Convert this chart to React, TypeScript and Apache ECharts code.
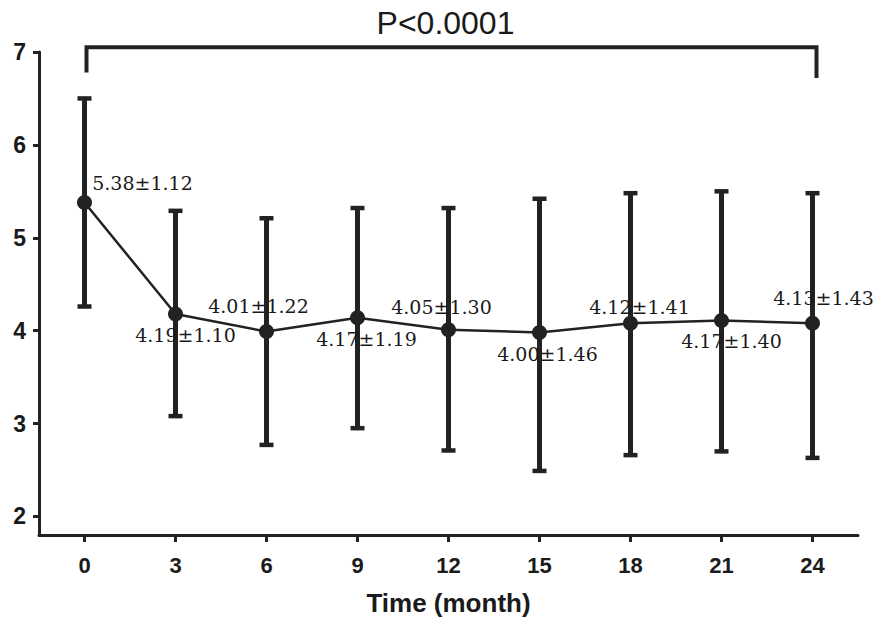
import React, { useEffect, useRef } from "react";
import * as echarts from "echarts";

const categories = ["0", "3", "6", "9", "12", "15", "18", "21", "24"];
const means = [5.38, 4.18, 3.99, 4.14, 4.01, 3.98, 4.08, 4.11, 4.08];
const highs = [6.5, 5.29, 5.21, 5.32, 5.32, 5.42, 5.48, 5.5, 5.48];
const lows = [4.26, 3.08, 2.77, 2.95, 2.71, 2.49, 2.66, 2.7, 2.63];
const valueLabels = [
  "5.38±1.12",
  "4.19±1.10",
  "4.01±1.22",
  "4.17±1.19",
  "4.05±1.30",
  "4.00±1.46",
  "4.12±1.41",
  "4.17±1.40",
  "4.13±1.43",
];
const yTicks = [2, 3, 4, 5, 6, 7];
const pText = "P<0.0001";
// bracket: from first to last category, bar level, left leg end, right leg end, text level
const bracket = [[0, 8, 7.05, 6.78, 6.72, 7.31]];

// label offsets (pixels) relative to each point
const labelOffsets = [
  [58, -19],
  [10, 21],
  [-8, -26],
  [9, 21],
  [-7, -23],
  [8, 21],
  [9, -16],
  [10, 21],
  [11, -25],
];

const INK = "#222";

export default function App() {
  const ref = useRef<HTMLDivElement>(null);
  useEffect(() => {
    if (!ref.current) return;
    const chart = echarts.init(ref.current, undefined, { renderer: "svg" });
    const option: any = {
      animation: false,
      backgroundColor: "#fff",
      grid: { left: 39, right: 19, top: 52, bottom: 91, containLabel: false },
      xAxis: {
        type: "category",
        data: categories,
        boundaryGap: true,
        axisLine: { show: true, onZero: false, lineStyle: { color: INK, width: 3 } },
        axisTick: { show: true, alignWithLabel: true, length: 7, lineStyle: { color: INK, width: 3 } },
        axisLabel: {
          margin: 19,
          color: "#1a1a1a",
          fontFamily: "Liberation Sans, Arial, sans-serif",
          fontWeight: "bold",
          fontSize: 22,
        },
        name: "Time (month)",
        nameLocation: "middle",
        nameGap: 55,
        nameTextStyle: {
          color: "#1a1a1a",
          fontFamily: "Liberation Sans, Arial, sans-serif",
          fontWeight: "bold",
          fontSize: 26,
        },
        splitLine: { show: false },
      },
      yAxis: {
        type: "value",
        min: 1.8,
        max: 7,
        axisLine: { show: true, lineStyle: { color: INK, width: 3 } },
        axisTick: { show: true, length: 6, customValues: yTicks, lineStyle: { color: INK, width: 3 } },
        axisLabel: {
          customValues: yTicks,
          margin: 13,
          color: "#1a1a1a",
          fontFamily: "Liberation Sans, Arial, sans-serif",
          fontWeight: "bold",
          fontSize: 23,
        },
        splitLine: { show: false },
      },
      series: [
        {
          type: "custom",
          name: "error",
          z: 2,
          data: categories.map((_, i) => [i, lows[i], highs[i]]),
          renderItem: (params: any, api: any) => {
            const x = api.value(0);
            const lo = api.coord([x, api.value(1)]);
            const hi = api.coord([x, api.value(2)]);
            const capW = 7;
            const st = { stroke: INK, lineWidth: 5 };
            return {
              type: "group",
              children: [
                { type: "line", shape: { x1: lo[0], y1: lo[1], x2: hi[0], y2: hi[1] }, style: st },
                { type: "line", shape: { x1: hi[0] - capW, y1: hi[1], x2: hi[0] + capW, y2: hi[1] }, style: { stroke: INK, lineWidth: 4.5 } },
                { type: "line", shape: { x1: lo[0] - capW, y1: lo[1], x2: lo[0] + capW, y2: lo[1] }, style: { stroke: INK, lineWidth: 4.5 } },
              ],
            };
          },
        },
        {
          type: "line",
          name: "mean",
          z: 3,
          symbol: "circle",
          symbolSize: 15,
          lineStyle: { color: INK, width: 2.5 },
          itemStyle: { color: INK },
          data: means.map((v, i) => ({
            value: v,
            label: {
              show: true,
              position: "inside",
              offset: labelOffsets[i],
              formatter: valueLabels[i],
              color: "#1a1a1a",
              fontFamily: "DejaVu Serif, serif",
              fontSize: 19,
              align: "center",
              verticalAlign: "middle",
            },
          })),
        },
        {
          type: "custom",
          name: "bracket",
          z: 4,
          clip: false,
          data: bracket,
          renderItem: (params: any, api: any) => {
            const a = api.value(0);
            const b = api.value(1);
            const yBar = api.value(2);
            const pL = api.coord([a, yBar]);
            const pR = api.coord([b, yBar]);
            const l2 = api.coord([a, api.value(3)]);
            const r2 = api.coord([b, api.value(4)]);
            const t = api.coord([(a + b) / 2, api.value(5)]);
            const st = { stroke: INK, lineWidth: 4 };
            return {
              type: "group",
              children: [
                {
                  type: "polyline",
                  shape: {
                    points: [
                      [l2[0] + 2, l2[1]],
                      [pL[0] + 2, pL[1]],
                      [pR[0] + 4, pR[1]],
                      [r2[0] + 4, r2[1]],
                    ],
                  },
                  style: { ...st, fill: "none", lineJoin: "miter" },
                },
                {
                  type: "text",
                  x: t[0] - 3,
                  y: t[1],
                  style: {
                    text: pText,
                    fill: "#1a1a1a",
                    font: "32px 'Liberation Sans', Arial, sans-serif",
                    align: "center",
                    verticalAlign: "middle",
                  },
                },
              ],
            };
          },
        },
      ],
    };
    chart.setOption(option);
    return () => chart.dispose();
  }, []);
  return (
    <div
      ref={ref}
      style={{ position: "fixed", left: 0, top: 0, width: 877, height: 626, background: "#fff" }}
    />
  );
}
